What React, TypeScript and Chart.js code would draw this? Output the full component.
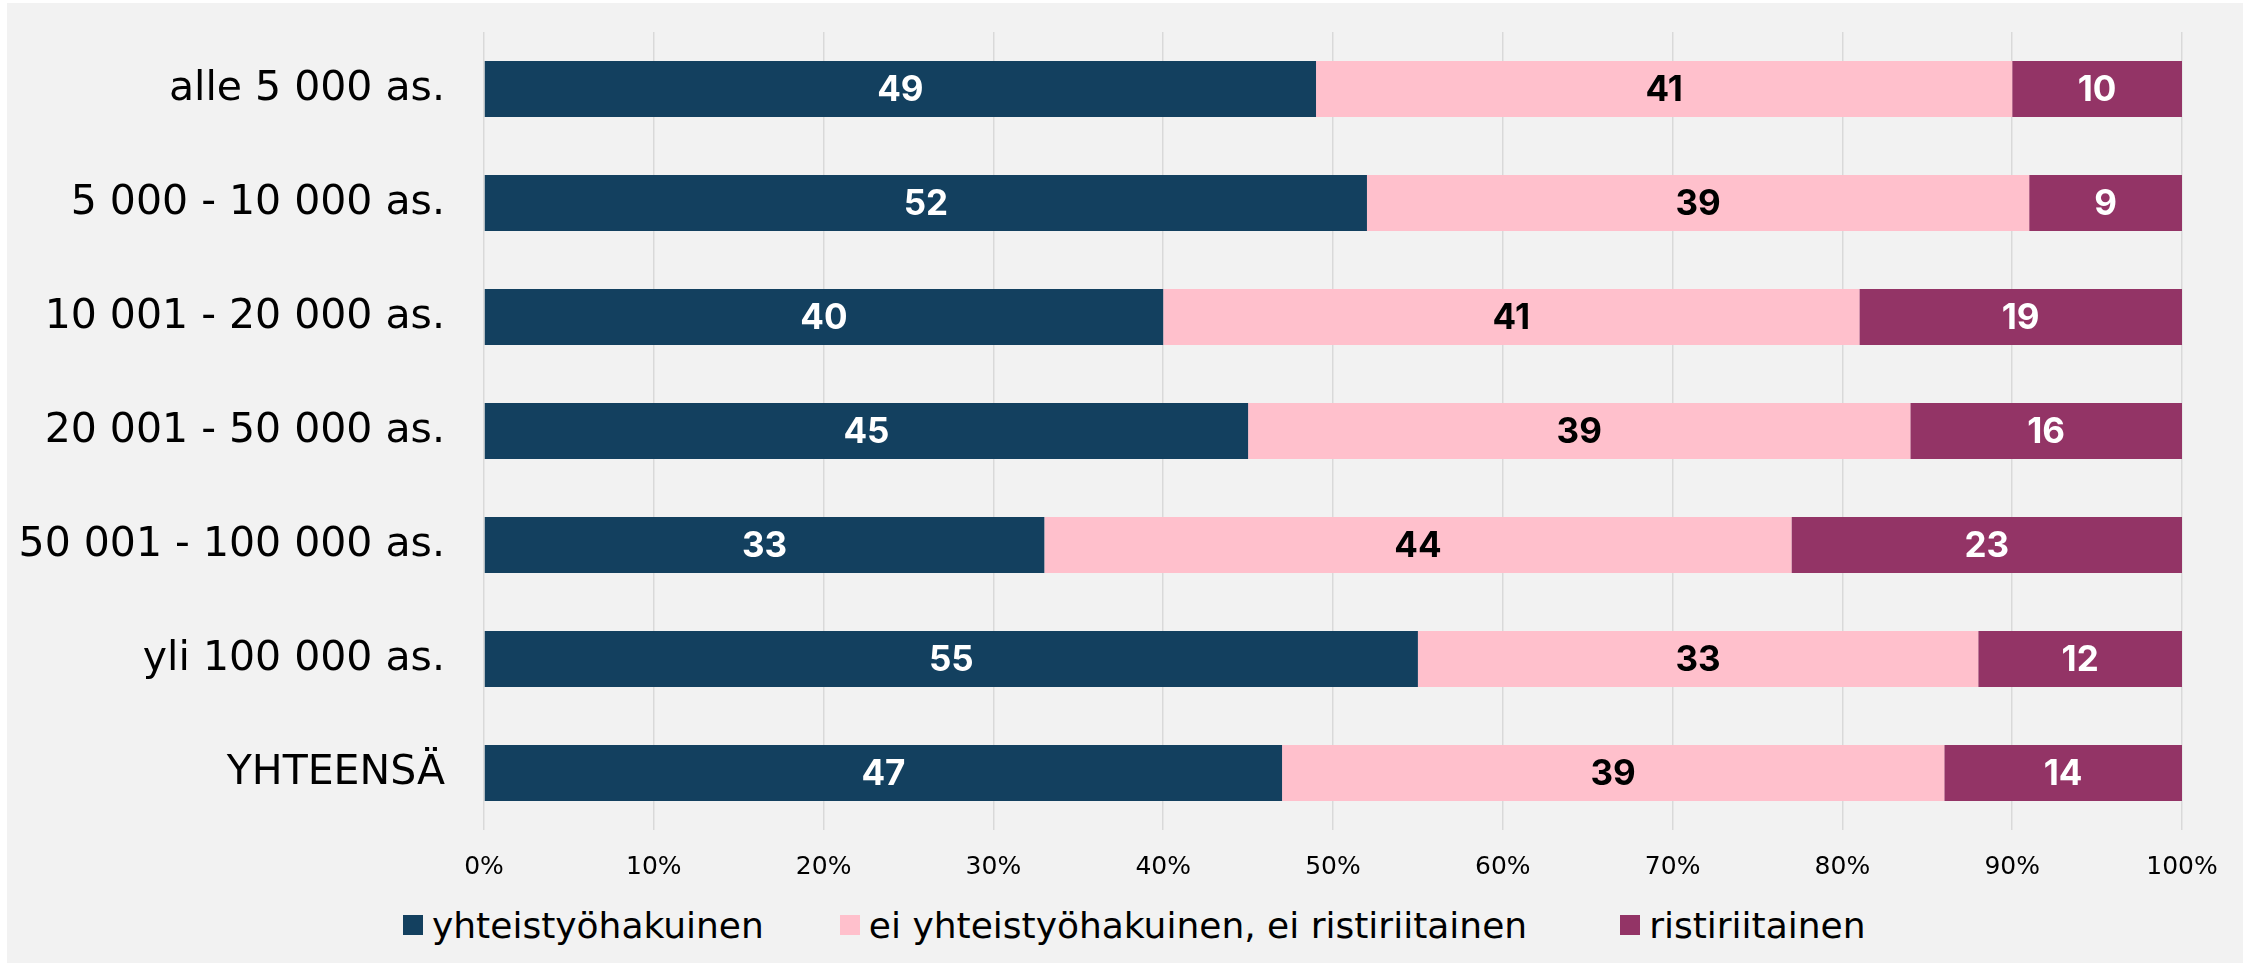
import React, { useEffect, useRef } from 'react';
import { Chart, registerables } from 'chart.js';

Chart.register(...registerables);

const categories = [
  'alle 5 000 as.',
  '5 000 - 10 000 as.',
  '10 001 - 20 000 as.',
  '20 001 - 50 000 as.',
  '50 001 - 100 000 as.',
  'yli 100 000 as.',
  'YHTEENSÄ',
];
const seriesNames = [
  'yhteistyöhakuinen',
  'ei yhteistyöhakuinen, ei ristiriitainen',
  'ristiriitainen',
];
const yhteistyohakuinen = [49, 52, 40, 45, 33, 55, 47];
const eiYhteistyohakuinen = [41, 39, 41, 39, 44, 33, 39];
const ristiriitainen = [10, 9, 19, 16, 23, 12, 14];
const seriesValues = [yhteistyohakuinen, eiYhteistyohakuinen, ristiriitainen];
const xTickValues = [0, 10, 20, 30, 40, 50, 60, 70, 80, 90, 100];

const barColors = ['#13405f', '#ffc0cc', '#933466'];
const labelColors = ['#ffffff', '#000000', '#ffffff'];

const FONT = "'DejaVu Sans', sans-serif";
const LABEL_FONT = "Inter, sans-serif";

const dataLabelPlugin = {
  id: 'dataLabels',
  afterDatasetsDraw(chart: any) {
    const ctx = chart.ctx;
    ctx.save();
    ctx.font = `700 35px ${LABEL_FONT}`;
    ctx.textAlign = 'center';
    ctx.textBaseline = 'middle';
    chart.data.datasets.forEach((ds: any, i: number) => {
      const meta = chart.getDatasetMeta(i);
      meta.data.forEach((el: any, j: number) => {
        const p = el.getCenterPoint();
        ctx.fillStyle = labelColors[i];
        ctx.fillText(String(ds.data[j]), p.x, p.y + 1);
      });
    });
    ctx.restore();
  },
};

export default function App() {
  const ref = useRef<HTMLCanvasElement | null>(null);

  useEffect(() => {
    if (!ref.current) return;
    const chart = new Chart(ref.current, {
      type: 'bar',
      data: {
        labels: categories,
        datasets: seriesNames.map((name, i) => ({
          label: name,
          data: seriesValues[i],
          backgroundColor: barColors[i],
          borderWidth: 0,
          categoryPercentage: 1,
          barPercentage: 0.49,
        })),
      },
      options: {
        indexAxis: 'y',
        animation: false,
        responsive: true,
        maintainAspectRatio: false,
        layout: { padding: { top: 29, right: 61, left: 0, bottom: 0 } },
        plugins: {
          legend: { display: false },
          tooltip: { enabled: false },
        },
        scales: {
          x: {
            stacked: true,
            min: 0,
            max: 100,
            afterBuildTicks: (axis: any) => {
              axis.ticks = xTickValues.map((v) => ({ value: v }));
            },
            ticks: {
              callback: (v: any) => `${v}%`,
              color: '#000000',
              font: { family: FONT, size: 25 },
              padding: 22,
              maxRotation: 0,
            },
            grid: { color: '#d9d9d9', lineWidth: 1.5, drawTicks: false },
            border: { display: false },
            afterFit: (axis: any) => {
              axis.height = 63;
            },
          },
          y: {
            stacked: true,
            ticks: {
              color: '#000000',
              font: { family: FONT, size: 41 },
              padding: 39,
            },
            grid: { display: false, drawTicks: false },
            border: { display: false },
            afterFit: (axis: any) => {
              axis.width = 477;
              axis.paddingTop = 0;
              axis.paddingBottom = 0;
            },
          },
        },
      },
      plugins: [dataLabelPlugin],
    });
    return () => chart.destroy();
  }, []);

  return (
    <div
      style={{
        position: 'absolute',
        left: 7,
        top: 3,
        width: 2236,
        height: 960,
        background: '#f2f2f2',
      }}
    >
      <div style={{ position: 'absolute', left: 0, top: 0, width: 2236, height: 890 }}>
        <canvas ref={ref} />
      </div>
      <div
        style={{
          position: 'absolute',
          left: 396,
          top: 898,
          height: 48,
          display: 'flex',
          alignItems: 'center',
          gap: 76,
          fontFamily: FONT,
          fontSize: 36,
          color: '#000000',
          whiteSpace: 'nowrap',
        }}
      >
        {seriesNames.map((name, i) => (
          <div
            key={name}
            style={{ display: 'flex', alignItems: 'center', marginLeft: i === 2 ? 17 : 0 }}
          >
            <span
              style={{
                display: 'inline-block',
                width: 20,
                height: 20,
                background: barColors[i],
                marginRight: 9,
              }}
            />
            <span>{name}</span>
          </div>
        ))}
      </div>
    </div>
  );
}
